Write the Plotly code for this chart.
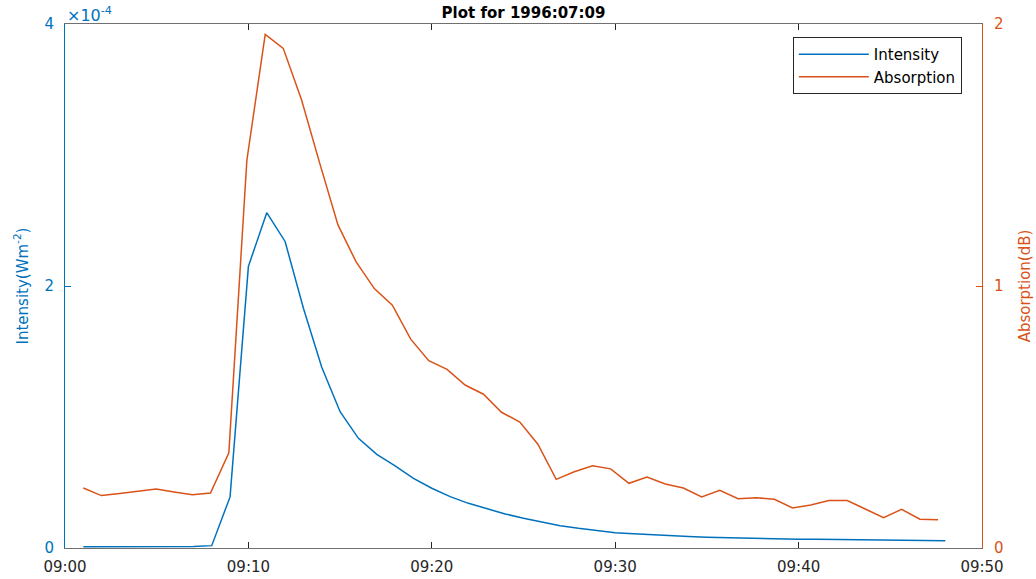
import plotly.graph_objects as go

# ---- data ----
date = "1996-07-09"
intensity_times = ["09:%02d:00" % m for m in range(1, 49)]
# Intensity in units of 1e-4 W m^-2
intensity_e4 = [0.010, 0.010, 0.010, 0.010, 0.010, 0.011, 0.012, 0.018, 0.39, 2.15,
                2.56, 2.34, 1.83, 1.38, 1.04, 0.837, 0.715, 0.626, 0.532, 0.456,
                0.392, 0.341, 0.298, 0.260, 0.227, 0.196, 0.170, 0.150, 0.132, 0.117,
                0.108, 0.100, 0.094, 0.088, 0.082, 0.078, 0.074, 0.071, 0.069, 0.067,
                0.066, 0.064, 0.062, 0.061, 0.060, 0.058, 0.057, 0.056]

absorption_times = ["09:01:00", "09:01:59", "09:02:59", "09:03:58", "09:04:58", "09:05:57",
                    "09:06:57", "09:07:56", "09:08:56", "09:09:55", "09:10:55", "09:11:54",
                    "09:12:54", "09:13:53", "09:14:53", "09:15:52", "09:16:52", "09:17:51",
                    "09:18:51", "09:19:50", "09:20:50", "09:21:49", "09:22:49", "09:23:48",
                    "09:24:48", "09:25:47", "09:26:47", "09:27:46", "09:28:46", "09:29:45",
                    "09:30:45", "09:31:44", "09:32:44", "09:33:43", "09:34:43", "09:35:42",
                    "09:36:42", "09:37:41", "09:38:41", "09:39:40", "09:40:40", "09:41:39",
                    "09:42:39", "09:43:38", "09:44:38", "09:45:37", "09:46:37", "09:47:36"]
absorption_db = [0.229, 0.200, 0.208, 0.217, 0.225, 0.214, 0.203, 0.210, 0.363, 1.48,
                 1.96, 1.907, 1.71, 1.47, 1.233, 1.093, 0.99, 0.927, 0.797, 0.715,
                 0.682, 0.622, 0.587, 0.518, 0.481, 0.396, 0.262, 0.291, 0.314, 0.302,
                 0.247, 0.271, 0.244, 0.229, 0.195, 0.220, 0.188, 0.192, 0.186, 0.153,
                 0.164, 0.181, 0.181, 0.149, 0.116, 0.148, 0.110, 0.108]

x_tick_labels = ["09:00", "09:10", "09:20", "09:30", "09:40", "09:50"]
left_ticks = [0, 2, 4]
right_ticks = [0, 1, 2]

BLUE = "#0072BD"
ORANGE = "#D95319"
FONT = "DejaVu Sans, Liberation Sans, Arial, sans-serif"

fig = go.Figure()
fig.add_trace(go.Scatter(
    x=[f"{date} {t}" for t in intensity_times], y=intensity_e4,
    mode="lines", name="Intensity", line=dict(color=BLUE, width=1.5), yaxis="y"))
fig.add_trace(go.Scatter(
    x=[f"{date} {t}" for t in absorption_times], y=absorption_db,
    mode="lines", name="Absorption", line=dict(color=ORANGE, width=1.5), yaxis="y2"))

tickvals_x = [f"{date} {t}:00" for t in x_tick_labels]

fig.update_layout(
    width=1036, height=579,
    margin=dict(l=65, r=54, t=24, b=31, autoexpand=False),
    paper_bgcolor="white", plot_bgcolor="white",
    font=dict(family=FONT, size=15, color="#262626"),
    showlegend=True,
    title=dict(text="<b>Plot for 1996:07:09</b>", x=0.5, xref="paper", xanchor="center",
               y=1, yref="paper", yanchor="bottom", pad=dict(b=6),
               font=dict(family=FONT, size=15, color="#000000")),
    xaxis=dict(type="date", range=[tickvals_x[0], tickvals_x[-1]],
               tickvals=tickvals_x, ticktext=x_tick_labels, automargin=False,
               showgrid=False, zeroline=False, showline=True, linecolor="#707070",
               linewidth=1, mirror="ticks", ticks="inside", ticklen=6, tickcolor="#262626",
               ticklabelstandoff=5,
               tickfont=dict(size=15, color="#262626")),
    yaxis=dict(range=[0, 4], tickvals=left_ticks, ticktext=[str(v) for v in left_ticks],
               automargin=False, ticklabelstandoff=7,
               showgrid=False, zeroline=False, showline=True, linecolor=BLUE, linewidth=1,
               ticks="inside", ticklen=6, tickcolor=BLUE, tickfont=dict(size=15, color=BLUE),
               title=dict(text="Intensity(Wm<sup>-2</sup>)", font=dict(size=15, color=BLUE),
                          standoff=12)),
    yaxis2=dict(range=[0, 2], tickvals=right_ticks, ticktext=[str(v) for v in right_ticks],
                overlaying="y", side="right", anchor="x", automargin=False,
                ticklabelstandoff=8,
                showgrid=False, zeroline=False, showline=True, linecolor=ORANGE, linewidth=1,
                ticks="inside", ticklen=6, tickcolor=ORANGE, tickfont=dict(size=15, color=ORANGE),
                title=dict(text="Absorption(dB)", font=dict(size=15, color=ORANGE),
                           standoff=16)),
    legend=dict(x=0.978, y=0.975, xanchor="right", yanchor="top",
                bgcolor="white", bordercolor="#262626", borderwidth=1,
                font=dict(size=15, color="#000000"), itemwidth=70,
                tracegroupgap=0),
)

fig.add_annotation(text="×10<sup>-4</sup>", xref="paper", yref="paper", x=0, y=1,
                   xanchor="left", yanchor="bottom", showarrow=False,
                   font=dict(family=FONT, size=16, color=BLUE), yshift=-3)

fig.write_html("out.html", config={"displayModeBar": False},
               post_script="document.body.style.margin='0';document.body.style.padding='0';")
